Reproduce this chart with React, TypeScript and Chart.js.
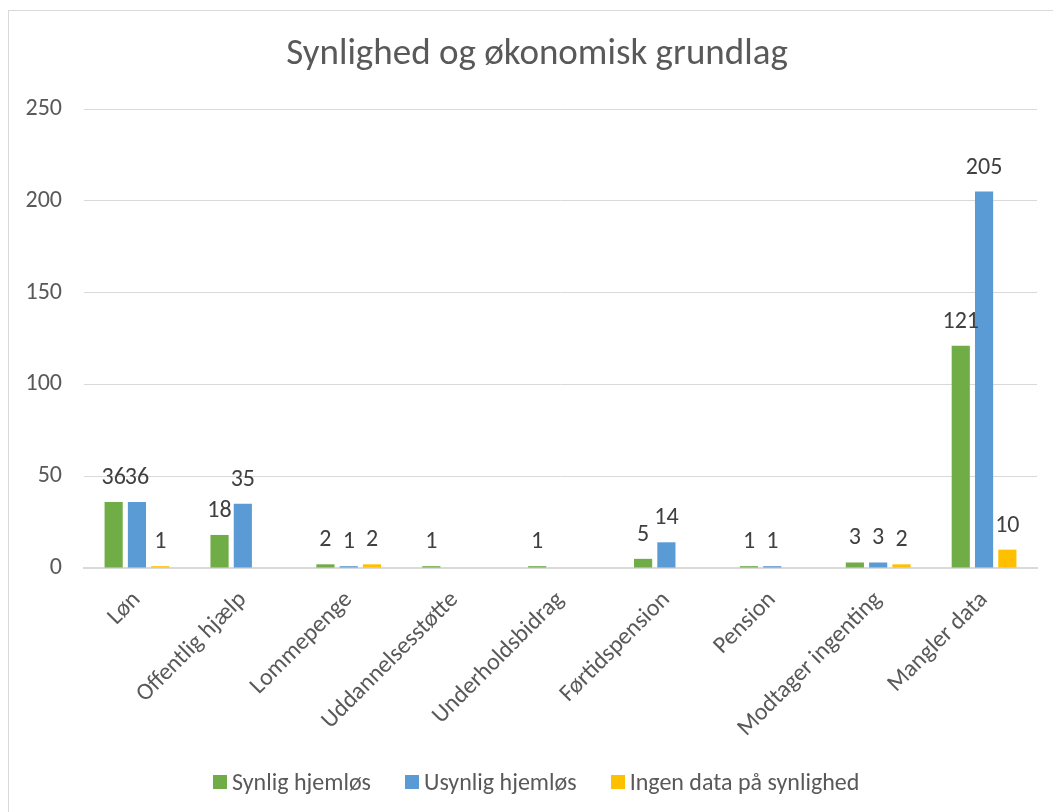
import React, { useEffect, useRef } from "react";
import { Chart, registerables } from "chart.js";

Chart.register(...registerables);

const categories = [
  "Løn",
  "Offentlig hjælp",
  "Lommepenge",
  "Uddannelsesstøtte",
  "Underholdsbidrag",
  "Førtidspension",
  "Pension",
  "Modtager ingenting",
  "Mangler data",
];
const synligHjemlos = [36, 18, 2, 1, 1, 5, 1, 3, 121];
const usynligHjemlos = [36, 35, 1, null, null, 14, 1, 3, 205];
const ingenData = [1, null, 2, null, null, null, null, 2, 10];
const seriesNames = ["Synlig hjemløs", "Usynlig hjemløs", "Ingen data på synlighed"];
const seriesColors = ["#70AD47", "#5B9BD5", "#FFC000"];
const yTicks = [0, 50, 100, 150, 200, 250];
const titleText = "Synlighed og økonomisk grundlag";

const FONT = "Carlito, Calibri, Lato, sans-serif";
const TEXT = "#595959";

const valueLabels = {
  id: "valueLabels",
  afterDatasetsDraw(chart: any) {
    const ctx = chart.ctx;
    ctx.save();
    ctx.font = `24px ${FONT}`;
    ctx.fillStyle = "#404040";
    ctx.textAlign = "center";
    ctx.textBaseline = "alphabetic";
    chart.data.datasets.forEach((ds: any, i: number) => {
      const meta = chart.getDatasetMeta(i);
      meta.data.forEach((el: any, j: number) => {
        const v = ds.data[j];
        if (v === null || v === undefined) return;
        ctx.fillText(String(v), el.x, el.y - 18);
      });
    });
    ctx.restore();
  },
};

export default function App() {
  const ref = useRef<HTMLCanvasElement>(null);
  useEffect(() => {
    if (!ref.current) return;
    const chart = new Chart(ref.current, {
      type: "bar",
      data: {
        labels: categories,
        datasets: [
          { label: seriesNames[0], data: synligHjemlos, backgroundColor: seriesColors[0] },
          { label: seriesNames[1], data: usynligHjemlos, backgroundColor: seriesColors[1] },
          { label: seriesNames[2], data: ingenData, backgroundColor: seriesColors[2] },
        ],
      },
      options: {
        animation: false,
        responsive: false,
        maintainAspectRatio: false,
        datasets: { bar: { categoryPercentage: 0.66, barPercentage: 0.78 } },
        layout: { padding: { left: 0, right: 16, top: 98, bottom: 0 } },
        plugins: {
          title: { display: false },
          legend: { display: false },
          tooltip: { enabled: false },
        },
        scales: {
          x: {
            afterFit: (scale: any) => {
              scale.height = 244;
            },
            grid: { display: false, drawTicks: false },
            border: { color: "#d9d9d9", width: 2 },
            ticks: {
              color: TEXT,
              font: { family: FONT, size: 24 },
              maxRotation: 45,
              minRotation: 45,
              padding: 18,
            },
          },
          y: {
            min: 0,
            max: 250,
            afterBuildTicks: (scale: any) => {
              scale.ticks = yTicks.map((v) => ({ value: v }));
            },
            afterFit: (scale: any) => {
              scale.width = 75;
            },
            grid: { color: "#d9d9d9", drawTicks: false },
            border: { display: false },
            ticks: {
              color: TEXT,
              font: { family: FONT, size: 24 },
              padding: 22,
            },
          },
        },
      },
      plugins: [valueLabels],
    });
    return () => chart.destroy();
  }, []);
  return (
    <div
      style={{
        position: "fixed",
        left: 8,
        top: 10,
        width: 1045,
        height: 802,
        borderLeft: "1px solid #d9d9d9",
        borderTop: "1px solid #d9d9d9",
        background: "#fff",
        overflow: "hidden",
      }}
    >
      <canvas ref={ref} width={1044} height={801} style={{ display: "block" }} />
      <div
        style={{
          position: "absolute",
          left: 228,
          width: 600,
          top: 19,
          textAlign: "center",
          fontFamily: FONT,
          fontSize: 37,
          lineHeight: "44px",
          color: TEXT,
          whiteSpace: "nowrap",
        }}
      >
        {titleText}
      </div>
      <div
        style={{
          position: "absolute",
          left: 204,
          top: 757,
          display: "flex",
          alignItems: "center",
          fontFamily: FONT,
          fontSize: 24,
          color: TEXT,
          whiteSpace: "nowrap",
          lineHeight: "28px",
        }}
      >
        {seriesNames.map((name, i) => (
          <div key={name} style={{ display: "flex", alignItems: "center", marginRight: 34 }}>
            <span
              style={{
                display: "inline-block",
                width: 14,
                height: 14,
                background: seriesColors[i],
                marginRight: 5,
              }}
            />
            <span>{name}</span>
          </div>
        ))}
      </div>
    </div>
  );
}
